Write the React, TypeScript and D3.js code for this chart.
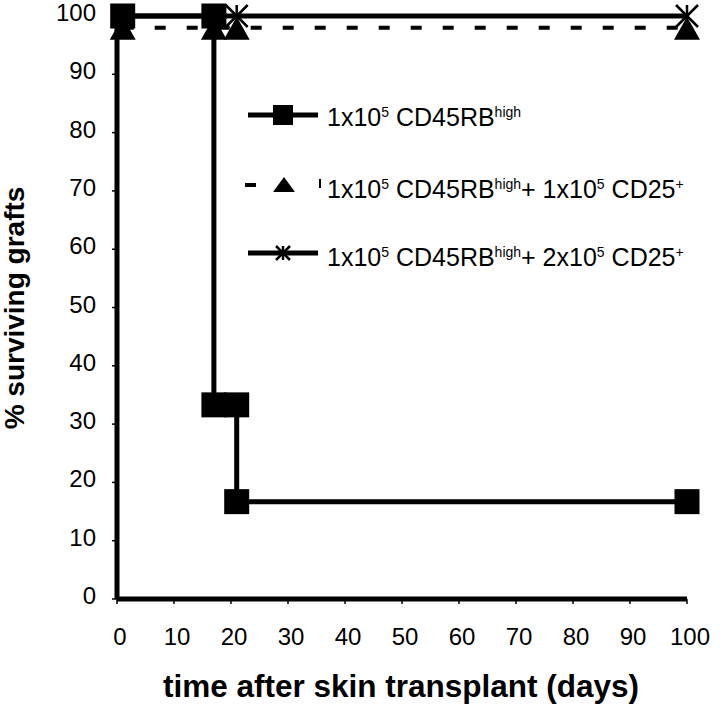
import React from 'react';
import * as d3 from 'd3';

const xTicks = [0, 10, 20, 30, 40, 50, 60, 70, 80, 90, 100];
const yTicks = [0, 10, 20, 30, 40, 50, 60, 70, 80, 90, 100];

// 1x10^5 CD45RBhigh (squares, solid)
const aDays = [1, 17, 17, 21, 21, 100];
const aVals = [100, 100, 33.3, 33.3, 16.7, 16.7];
// + 1x10^5 CD25+ (triangles, dashed)
const bDays = [1, 17, 21, 100];
const bVals = [98, 98, 98, 98];
// + 2x10^5 CD25+ (stars, solid)
const cDays = [1, 17, 21, 100];
const cVals = [100, 100, 100, 100];

type Part = [string, boolean];
const legendLabels: Part[][] = [
  [['1x10', false], ['5', true], [' CD45RB', false], ['high', true]],
  [['1x10', false], ['5', true], [' CD45RB', false], ['high', true], ['+ 1x10', false], ['5', true], [' CD25', false], ['+', true]],
  [['1x10', false], ['5', true], [' CD45RB', false], ['high', true], ['+ 2x10', false], ['5', true], [' CD25', false], ['+', true]],
];

const FONT = "'Liberation Sans', Arial, Helvetica, sans-serif";

const x = d3.scaleLinear().domain([0, 100]).range([117, 687]);
const y = d3.scaleLinear().domain([0, 100]).range([599, 16]);

const line = d3.line<[number, number]>().x(d => x(d[0])).y(d => y(d[1]));

const zip = (a: number[], b: number[]) => a.map((v, i) => [v, b[i]] as [number, number]);

const triPath = (cx: number, cy: number, hw: number, up: number, down: number) =>
  `M${cx},${cy - up}L${cx + hw},${cy + down}L${cx - hw},${cy + down}Z`;

const Star = ({ cx, cy, r, sw }: { cx: number; cy: number; r: number; sw: number }) => (
  <g stroke="#000" strokeWidth={sw}>
    <line x1={cx - r} y1={cy - r} x2={cx + r} y2={cy + r} />
    <line x1={cx - r} y1={cy + r} x2={cx + r} y2={cy - r} />
    <line x1={cx} y1={cy - r} x2={cx} y2={cy + r} />
  </g>
);

const LegendText = ({ parts, tx, ty }: { parts: Part[]; tx: number; ty: number }) => {
  let prevSup = false;
  return (
    <text x={tx} y={ty} fontFamily={FONT} fontSize={25} fill="#000">
      {parts.map(([t, sup], i) => {
        let dy = 0;
        if (sup && !prevSup) dy = -9;
        else if (!sup && prevSup) dy = 9;
        prevSup = sup;
        return (
          <tspan key={i} dy={dy} fontSize={sup ? 14 : 25} style={{ whiteSpace: 'pre' }}>
            {t}
          </tspan>
        );
      })}
    </text>
  );
};

export default function App() {
  const a = zip(aDays, aVals);
  const b = zip(bDays, bVals);
  const c = zip(cDays, cVals);
  const legY = [115, 185, 253];
  const legTextY = [126, 198, 266];
  return (
    <svg width={720} height={710} style={{ position: 'absolute', left: 0, top: 0, background: '#fff' }}>
      <rect width={720} height={710} fill="#fff" />
      {/* ticks */}
      {yTicks.map(t => (
        <g key={'y' + t}>
          <line x1={112} x2={117} y1={y(t)} y2={y(t)} stroke="#000" strokeWidth={1.5} />
          <text x={96} y={y(t) + 5} textAnchor="end" fontFamily={FONT} fontSize={24}>
            {t}
          </text>
        </g>
      ))}
      {xTicks.map(t => (
        <g key={'x' + t}>
          <line x1={x(t)} x2={x(t)} y1={599} y2={604} stroke="#000" strokeWidth={1.5} />
          <text x={x(t) + 3} y={645} textAnchor="middle" fontFamily={FONT} fontSize={24}>
            {t}
          </text>
        </g>
      ))}
      {/* axes */}
      <line x1={x(0)} x2={x(0)} y1={y(100)} y2={y(0)} stroke="#000" strokeWidth={5} />
      <line x1={x(0)} x2={x(100)} y1={y(0)} y2={y(0)} stroke="#000" strokeWidth={5} />
      {/* series lines */}
      <path d={line(b) || ''} fill="none" stroke="#000" strokeWidth={4} strokeDasharray="11,21" />
      <path d={line(c) || ''} fill="none" stroke="#000" strokeWidth={5} />
      <path d={line(a) || ''} fill="none" stroke="#000" strokeWidth={5} />
      {/* markers */}
      {b.map((d, i) => (
        <path key={'b' + i} d={triPath(x(d[0]), y(d[1]), 13, 11, 12)} fill="#000" />
      ))}
      {a.map((d, i) => (
        <rect key={'a' + i} x={x(d[0]) - 12.5} y={y(d[1]) - 12.5} width={25} height={25} fill="#000" />
      ))}
      {c.map((d, i) => (
        <Star key={'c' + i} cx={x(d[0])} cy={y(d[1])} r={11} sw={2.5} />
      ))}
      {/* legend */}
      <line x1={248} x2={318} y1={legY[0]} y2={legY[0]} stroke="#000" strokeWidth={5} />
      <rect x={273} y={legY[0] - 10} width={20} height={20} fill="#000" />
      <line x1={245} x2={256} y1={legY[1]} y2={legY[1]} stroke="#000" strokeWidth={4} />
      <path d={triPath(284, legY[1], 11, 8, 7)} fill="#000" />
      <line x1={320} x2={320} y1={legY[1] - 6} y2={legY[1] + 3} stroke="#000" strokeWidth={2} />
      <line x1={248} x2={318} y1={legY[2]} y2={legY[2]} stroke="#000" strokeWidth={5} />
      <Star cx={283} cy={legY[2]} r={7} sw={2.5} />
      {legendLabels.map((parts, i) => (
        <LegendText key={i} parts={parts} tx={327} ty={legTextY[i]} />
      ))}
      {/* axis titles */}
      <text
        transform={`translate(24,308) rotate(-90)`}
        textAnchor="middle"
        fontFamily={FONT}
        fontWeight="bold"
        fontSize={28}
      >
        % surviving grafts
      </text>
      <text x={401} y={697} textAnchor="middle" fontFamily={FONT} fontWeight="bold" fontSize={31.5}>
        time after skin transplant (days)
      </text>
    </svg>
  );
}
